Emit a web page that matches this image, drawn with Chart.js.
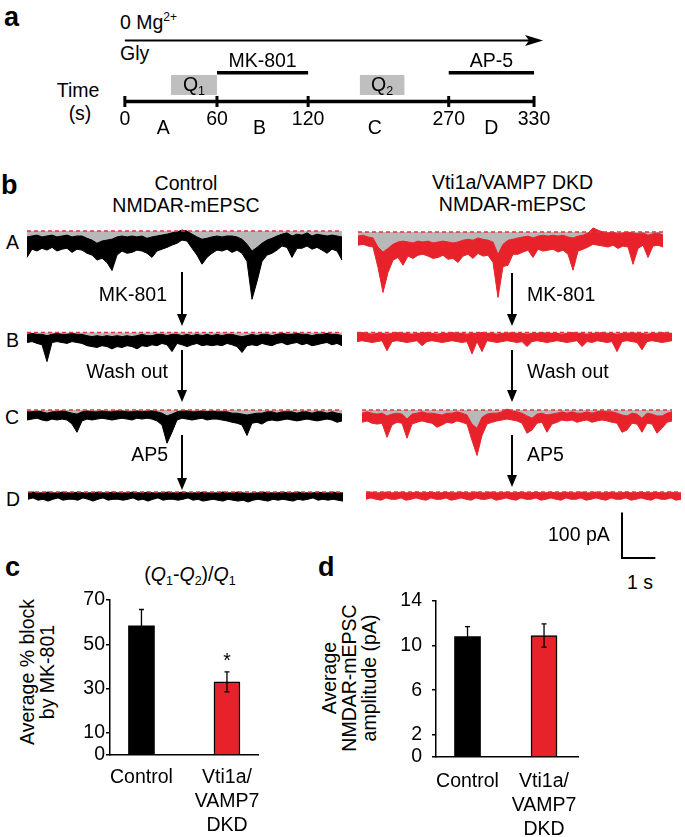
<!DOCTYPE html>
<html>
<head>
<meta charset="utf-8">
<script src="https://cdn.jsdelivr.net/npm/chart.js@4.4.0/dist/chart.umd.min.js"></script>
<style>
	html, body { margin: 0; padding: 0; background: #fff; }
	body { width: 685px; height: 837px; position: relative; overflow: hidden;
		font-family: "Liberation Sans", Arial, Helvetica, sans-serif; color: #000; }
	canvas { position: absolute; }
	.txt { position: absolute; white-space: nowrap; line-height: 1; }
	.vt { position: absolute; white-space: nowrap; font-size: 19.5px; line-height: 20px; text-align: center;
		transform: translate(-50%, -50%) rotate(-90deg); }
	.sup { font-size: 12px; position: relative; top: -8px; }
	.sub { font-size: 12.5px; position: relative; top: 4px; }
	.shape { position: absolute; }
</style>
</head>
<body>
<script>
/*Panel a: protocol (s)*/
var timeTicks = [0, 60, 120, 270, 330];
var segmentNames = ['A', 'B', 'C', 'D'];
var segmentMid = [25, 88, 191, 300];
var drugNames = ['MK-801', 'AP-5'];
var drugStart = [60, 270];
var drugEnd = [120, 330];
var chargeNames = ['1', '2'];
var chargeStart = [30, 175];
var chargeEnd = [60, 223];

/*Panel b: current traces (pA), one reading every 0.15 s, upper and lower edge of the noise band*/
var ctrlATop = [-13,-11,-9,-13,-11,-9,-13,-11,-9,-13, -11,-11,-16,-20,-27,-22,-20,-18,-13,-11,
	-13,-11,-13,-11,-16,-13,-11,-9,-7,-4, -2,2,0,-7,-13,-18,-16,-13,-11,-13,
	-11,-11,-13,-18,-29,-44,-36,-27,-20,-16, -11,-7,-4,-11,-7,-9,-4,-11,-7,-9, -11,-9,-11,-13];
var ctrlABot = [-58,-40,-44,-38,-42,-36,-44,-40,-38,-47, -40,-42,-49,-53,-64,-60,-69,-87,-53,-44,
	-49,-47,-42,-44,-49,-58,-44,-40,-36,-31, -27,-20,-22,-38,-53,-73,-58,-49,-42,-44,
	-40,-47,-42,-49,-67,-150,-111,-67,-53,-49, -42,-33,-36,-58,-38,-38,-33,-40,-36,-42, -49,-40,-44,-64];
var ctrlBTop = [-4,-2,-4,-4,-7,-4,-2,-4,-4,-2, -4,-4,-7,-9,-7,-9,-7,-9,-7,-9,
	-7,-9,-7,-4,-7,-7,-4,-4,-7,-4, -4,-7,-4,-7,-4,-7,-4,-7,-4,-7,
	-4,-4,-7,-9,-7,-4,-7,-4,-4,-7, -4,-2,-4,-4,-2,-4,-4,-7,-4,-4, -2,-4,-4,-7];
var ctrlBBot = [-22,-20,-24,-27,-64,-22,-20,-22,-24,-20, -22,-24,-29,-31,-33,-29,-31,-36,-31,-33,
	-29,-31,-36,-29,-31,-27,-29,-24,-27,-42, -24,-27,-31,-27,-24,-29,-27,-29,-27,-29,
	-24,-27,-31,-44,-29,-27,-29,-24,-27,-29, -24,-22,-27,-24,-22,-27,-24,-29,-27,-24, -22,-27,-24,-29];
var ctrlCTop = [-4,-4,-2,-4,-7,-4,-4,-2,-4,-7, -9,-4,-2,-4,-4,-2,-4,-4,-2,-2,
	-4,-4,-2,-4,-2,-2,-4,-7,-13,-9, -4,-2,-2,-4,-4,-2,-4,-2,-4,-4,
	-4,-7,-7,-9,-11,-9,-7,-7,-4,-4, -7,-4,-4,-4,-7,-4,-4,-7,-4,-4, -7,-4,-7,-9];
var ctrlCBot = [-22,-20,-18,-22,-24,-20,-22,-20,-22,-31, -49,-24,-20,-22,-20,-18,-20,-22,-20,-18,
	-20,-22,-18,-20,-18,-20,-24,-33,-73,-49, -22,-18,-20,-22,-20,-18,-22,-20,-20,-22,
	-24,-27,-29,-33,-56,-29,-27,-31,-24,-22, -24,-22,-20,-22,-24,-22,-20,-22,-24,-22, -20,-22,-27,-24];
var ctrlDTop = [-2,0,-2,-2,0,-2,-2,0,-2,-2, 0,-2,-2,-2,0,-2,-2,0,-2,-2,
	-2,0,-2,-2,0,-2,-2,-2,0,-2, -2,0,-2,-2,-2,0,-2,-2,-2,0,
	-2,-2,0,-2,-4,-2,-2,0,-2,-2, -2,0,-2,-2,0,-2,-2,-2,0,-2, -2,0,-2,-2];
var ctrlDBot = [-16,-13,-18,-16,-20,-16,-13,-18,-16,-16, -18,-13,-16,-20,-16,-13,-18,-16,-16,-18,
	-16,-13,-18,-16,-20,-16,-13,-18,-16,-16, -18,-16,-13,-18,-16,-20,-18,-16,-18,-20,
	-16,-18,-20,-18,-22,-18,-16,-18,-20,-16, -18,-16,-18,-20,-16,-18,-16,-13,-18,-16, -18,-16,-18,-20];
var dkdATop = [-9,-7,-11,-13,-33,-44,-36,-27,-22,-20, -22,-24,-20,-22,-20,-24,-22,-20,-22,-24,
	-22,-18,-16,-18,-13,-16,-18,-22,-49,-27, -18,-16,-13,-11,-9,-13,-9,-7,-9,-7,
	-9,-7,-11,-13,-9,-7,-2,9,4,0, -2,0,-4,-2,0,-2,-4,-2,-7,-4, -2,-7];
var dkdABot = [-29,-27,-31,-33,-78,-133,-89,-62,-56,-73, -53,-58,-51,-49,-53,-58,-56,-51,-60,-58,
	-67,-53,-49,-58,-47,-53,-51,-67,-144,-76, -73,-49,-49,-44,-40,-56,-38,-42,-40,-38,
	-44,-40,-49,-84,-42,-38,-33,-27,-29,-31, -33,-29,-36,-31,-33,-71,-36,-29,-56,-31, -29,-33];
var dkdBTop = [-2,0,-2,-4,-2,-2,-4,-2,0,-2, -2,-4,-2,-2,0,-2,-4,-2,-2,0,
	-2,-2,-4,-2,-2,0,-2,-2,-4,-2, -2,0,-2,-2,-4,-2,-2,0,-2,-2,
	-2,-4,-2,0,-2,-2,-4,-2,-2,0, -2,-2,-4,-2,-2,0,-2,-2,-4,-2, -2,0,-2,-2];
var dkdBBot = [-20,-18,-20,-22,-20,-18,-40,-20,-18,-20, -22,-20,-18,-29,-20,-18,-20,-22,-20,-18,
	-20,-22,-20,-47,-20,-42,-18,-20,-22,-20, -18,-20,-22,-20,-31,-20,-18,-20,-22,-20,
	-18,-20,-22,-20,-18,-31,-20,-22,-18,-20, -22,-20,-42,-20,-18,-20,-22,-38,-20,-18, -20,-22,-20,-18];
var dkdCTop = [-7,-4,-7,-9,-7,-13,-9,-7,-9,-20, -9,-7,-4,-7,-7,-9,-11,-7,-7,-4,
	-7,-11,-31,-40,-16,-9,-7,-7,-4,2, -2,-4,-7,-13,-18,-9,-7,-11,-9,-7,
	-4,-7,-4,-7,-7,-4,-7,-4,-2,-4, -4,-7,-11,-13,-7,-9,-18,-7,-9,-13, -13,-7,-4];
var dkdCBot = [-27,-24,-29,-31,-29,-60,-33,-27,-29,-62, -31,-27,-24,-27,-29,-38,-33,-27,-29,-24,
	-27,-31,-67,-100,-56,-31,-27,-24,-22,-20, -22,-24,-29,-51,-44,-29,-27,-49,-31,-27,
	-22,-24,-22,-27,-24,-22,-27,-24,-22,-24, -27,-29,-49,-44,-29,-31,-49,-29,-31,-51, -40,-27,-24];
var dkdDTop = [-2,0,-2,-2,0,-2,-2,0,-2,-2, 0,-2,-2,0,-2,-2,0,-2,-2,0,
	-2,-2,0,-2,-2,0,-2,-2,0,-2, -2,0,-2,-2,0,-2,-2,0,-2,-2,
	0,-2,-2,0,-2,-2,0,-2,-2,0, -2,-2,0,-2,-2,0,-2,-2,0,-2, -2,0,-2,-2];
var dkdDBot = [-16,-13,-16,-18,-13,-16,-16,-13,-18,-16, -13,-16,-18,-13,-16,-16,-13,-18,-16,-13,
	-16,-18,-13,-16,-16,-13,-18,-16,-13,-16, -18,-13,-16,-16,-13,-18,-16,-13,-16,-18,
	-13,-16,-16,-13,-18,-16,-13,-16,-18,-13, -16,-16,-13,-18,-16,-13,-16,-18,-13,-16, -16,-13,-18,-16];
var scaleBarPA = 100;
var scaleBarSec = 1;

/*Panels c, d*/
var groupNames = ['Control', ['Vti1a/', 'VAMP7', 'DKD']];
var blockMean = [58.3, 33.0];
var blockSem = [7.4, 4.5];
var blockTicks = [0, 10, 30, 50, 70];
var ampMean = [10.8, 10.9];
var ampSem = [0.9, 1.05];
var ampTicks = [0, 2, 6, 10, 14];

/*Estilos y layout*/
var FONT_FAMILY = '"Liberation Sans", Arial, Helvetica, sans-serif';
var FONT_SIZE = 19.5;
var BLACK = '#000000', RED = '#e8222a', DASH_RED = '#e8323a', GRAY = '#b8b8b8', BOX_GRAY = '#bfbfbf';
var DT = 0.15, PX_PER_SEC = 100 / 3, PX_PER_PA = 0.455, PAD_SEC = 0.1;
var axisStopsPx = [120, 215, 309, 454, 542];
var ROW = {arrow: 36, drugText: 66, drug: 72.5, boxTop: 75, boxBottom: 97.5, boxText: 93.5,
	axis: 105, tickText: 131, segText: 142};

Chart.defaults.font.family = FONT_FAMILY;
Chart.defaults.color = BLACK;

function baseOptions(){
	return {
		responsive: false, animation: false, devicePixelRatio: 1, events: [],
		layout: {padding: 0},
		elements: {point: {radius: 0}, line: {tension: 0}},
		plugins: {legend: {display: false}, tooltip: {enabled: false}}
	};
}

function addCanvas(left, top, w, h){
	var cv = document.createElement('canvas');
	cv.width = w; cv.height = h;
	cv.style.left = left + 'px'; cv.style.top = top + 'px';
	cv.style.width = w + 'px'; cv.style.height = h + 'px';
	document.body.appendChild(cv);
	return cv;
}

function addText(html, x, base, align, size, weight){
	var el = document.createElement('div');
	size = size || FONT_SIZE;
	el.className = 'txt';
	el.innerHTML = html;
	el.style.fontSize = size + 'px';
	if(weight){ el.style.fontWeight = weight; }
	el.style.left = x + 'px';
	el.style.top = (base - size * 0.8465) + 'px';
	if(align === 'center'){ el.style.transform = 'translateX(-50%)'; }
	if(align === 'right'){ el.style.transform = 'translateX(-100%)'; }
	document.body.appendChild(el);
}

function addVertTitle(lines, cx, cy){
	var el = document.createElement('div');
	el.className = 'vt';
	el.innerHTML = lines.join('<br>');
	el.style.left = cx + 'px';
	el.style.top = cy + 'px';
	document.body.appendChild(el);
}

function addArrow(x, y1, y2){
	var shaft = document.createElement('div'), head = document.createElement('div');
	shaft.className = 'shape'; head.className = 'shape';
	shaft.style.cssText += 'left:' + (x - 1) + 'px;top:' + y1 + 'px;width:2px;height:' + (y2 - y1 - 10) + 'px;background:#000;';
	head.style.cssText += 'left:' + (x - 5) + 'px;top:' + (y2 - 12) + 'px;width:0;height:0;' +
		'border-left:5px solid transparent;border-right:5px solid transparent;border-top:12px solid #000;';
	document.body.appendChild(shaft);
	document.body.appendChild(head);
}

/*Tiempo del protocolo -> posicion esquematica*/
function toPos(t){
	var k;
	for(k = 0; k < timeTicks.length - 2; k++){
		if(t <= timeTicks[k + 1]){ break; }
	}
	return axisStopsPx[k] + (t - timeTicks[k]) / (timeTicks[k + 1] - timeTicks[k]) * (axisStopsPx[k + 1] - axisStopsPx[k]);
}

/*Construye panel a*/
function buildTimeline(){
	var cv = addCanvas(0, 0, 560, 150), datasets = [], i, opts;
	var timelineText = {
		id: 'timelineText',
		afterDatasetsDraw: function(chart){
			var ctx = chart.ctx, xs = chart.scales.x, ys = chart.scales.y, j, x, tip, y, wq, ws;
			ctx.save();
			ctx.fillStyle = BLACK;
			ctx.font = FONT_SIZE + 'px ' + FONT_FAMILY;
			ctx.textAlign = 'center';
			ctx.textBaseline = 'alphabetic';
			for(j = 0; j < timeTicks.length; j++){
				ctx.fillText(String(timeTicks[j]), xs.getPixelForValue(toPos(timeTicks[j])), ys.getPixelForValue(ROW.tickText));
			}
			for(j = 0; j < segmentNames.length; j++){
				ctx.fillText(segmentNames[j], xs.getPixelForValue(toPos(segmentMid[j])), ys.getPixelForValue(ROW.segText));
			}
			for(j = 0; j < drugNames.length; j++){
				x = (xs.getPixelForValue(toPos(drugStart[j])) + xs.getPixelForValue(toPos(drugEnd[j]))) / 2;
				ctx.fillText(drugNames[j], x, ys.getPixelForValue(ROW.drugText));
			}
			ctx.textAlign = 'left';
			for(j = 0; j < chargeNames.length; j++){
				x = (xs.getPixelForValue(toPos(chargeStart[j])) + xs.getPixelForValue(toPos(chargeEnd[j]))) / 2;
				y = ys.getPixelForValue(ROW.boxText);
				ctx.font = FONT_SIZE + 'px ' + FONT_FAMILY;
				wq = ctx.measureText('Q').width;
				ctx.font = '12.5px ' + FONT_FAMILY;
				ws = ctx.measureText(chargeNames[j]).width;
				ctx.font = FONT_SIZE + 'px ' + FONT_FAMILY;
				ctx.fillText('Q', x - (wq + ws) / 2, y);
				ctx.font = '12.5px ' + FONT_FAMILY;
				ctx.fillText(chargeNames[j], x - (wq + ws) / 2 + wq, y + 4);
			}
			/*punta de flecha*/
			tip = xs.getPixelForValue(toPos(timeTicks[timeTicks.length - 1])) + 9;
			y = ys.getPixelForValue(ROW.arrow);
			ctx.beginPath();
			ctx.moveTo(tip, y);
			ctx.lineTo(tip - 18, y - 5.5);
			ctx.lineTo(tip - 14, y);
			ctx.lineTo(tip - 18, y + 5.5);
			ctx.closePath();
			ctx.fill();
			ctx.restore();
		}
	};
	for(i = 0; i < chargeNames.length; i++){
		datasets.push({data: [{x: toPos(chargeStart[i]), y: ROW.boxTop}, {x: toPos(chargeEnd[i]), y: ROW.boxTop}],
			borderWidth: 0, borderColor: 'rgba(0,0,0,0)', backgroundColor: BOX_GRAY, fill: {value: ROW.boxBottom}});
	}
	for(i = 0; i < drugNames.length; i++){
		datasets.push({data: [{x: toPos(drugStart[i]), y: ROW.drug}, {x: toPos(drugEnd[i]), y: ROW.drug}],
			borderWidth: 3.5, borderColor: BLACK, borderCapStyle: 'butt', fill: false});
	}
	datasets.push({data: [{x: toPos(timeTicks[0]), y: ROW.axis}, {x: toPos(timeTicks[timeTicks.length - 1]), y: ROW.axis}],
		borderWidth: 3.5, borderColor: BLACK, fill: false});
	datasets.push({data: timeTicks.map(function(t){ return {x: toPos(t), y: ROW.axis}; }), showLine: false,
		pointStyle: 'line', pointRotation: 90, pointRadius: 5.5, pointBorderWidth: 3, pointBorderColor: BLACK});
	datasets.push({data: [{x: toPos(timeTicks[0]), y: ROW.arrow}, {x: toPos(timeTicks[timeTicks.length - 1]) - 4, y: ROW.arrow}],
		borderWidth: 2, borderColor: BLACK, fill: false});
	opts = baseOptions();
	opts.scales = {
		x: {type: 'linear', display: false, min: 0, max: 560},
		y: {type: 'linear', display: false, min: 0, max: 150, reverse: true}
	};
	new Chart(cv, {type: 'line', data: {datasets: datasets}, options: opts, plugins: [timelineText]});
}

/*Construye un trazo de corriente*/
function buildTrace(color, top, bottom, x0, base, yMax, yMin){
	var n = top.length, tEnd = (n - 1) * DT, i, upper = [], lower = [], opts, cv,
		left = Math.round(x0 - PAD_SEC * PX_PER_SEC), topPx = Math.round(base - yMax * PX_PER_PA),
		xMin = -(x0 - left) / PX_PER_SEC, w = Math.ceil((tEnd + PAD_SEC - xMin) * PX_PER_SEC),
		yTop = (base - topPx) / PX_PER_PA, h = Math.ceil((yTop - yMin) * PX_PER_PA);
	for(i = 0; i < n; i++){
		upper.push({x: i * DT, y: top[i]});
		lower.push({x: i * DT, y: bottom[i]});
	}
	cv = addCanvas(left, topPx, w, h);
	opts = baseOptions();
	opts.scales = {
		x: {type: 'linear', display: false, min: xMin, max: xMin + w / PX_PER_SEC},
		y: {type: 'linear', display: false, min: yTop - h / PX_PER_PA, max: yTop}
	};
	new Chart(cv, {type: 'line', data: {datasets: [
		{data: [{x: 0, y: 0}, {x: tEnd, y: 0}], borderColor: DASH_RED, borderWidth: 1.5, borderDash: [4, 3], fill: false},
		{data: lower, borderColor: color, borderWidth: 1, backgroundColor: color, fill: '+1'},
		{data: upper, borderColor: color, borderWidth: 1, backgroundColor: GRAY, fill: 'origin'}
	]}, options: opts});
}

/*Barra de escala con las mismas escalas de los trazos*/
function buildScaleBar(x0, y0){
	var left = Math.round(x0 - 0.15 * PX_PER_SEC), top = Math.round(y0 - (scaleBarPA + 10) * PX_PER_PA),
		w = Math.ceil((scaleBarSec + 0.3) * PX_PER_SEC), h = Math.ceil((scaleBarPA + 20) * PX_PER_PA),
		xMin = -(x0 - left) / PX_PER_SEC, yMax = (y0 - top) / PX_PER_PA, opts, cv;
	cv = addCanvas(left, top, w, h);
	opts = baseOptions();
	opts.scales = {
		x: {type: 'linear', display: false, min: xMin, max: xMin + w / PX_PER_SEC},
		y: {type: 'linear', display: false, min: yMax - h / PX_PER_PA, max: yMax}
	};
	new Chart(cv, {type: 'line', data: {datasets: [{
		data: [{x: 0, y: scaleBarPA}, {x: 0, y: 0}, {x: scaleBarSec, y: 0}],
		borderColor: BLACK, borderWidth: 2, borderJoinStyle: 'miter', fill: false
	}]}, options: opts});
}

/*Construye grafico de barras con error*/
function buildBars(lay, means, errs, yTicks, star){
	var cv = addCanvas(lay.left, lay.top, lay.w, lay.h), opts;
	var errorBars = {
		id: 'errorBars',
		afterDatasetsDraw: function(chart){
			var ctx = chart.ctx, xs = chart.scales.x, ys = chart.scales.y, i, x, yHi, yLo;
			ctx.save();
			ctx.strokeStyle = BLACK;
			ctx.lineWidth = 1.3;
			for(i = 0; i < means.length; i++){
				x = xs.getPixelForValue(i + 1);
				yHi = ys.getPixelForValue(means[i] + errs[i]);
				yLo = ys.getPixelForValue(means[i] - errs[i]);
				ctx.beginPath();
				ctx.moveTo(x, yLo); ctx.lineTo(x, yHi);
				ctx.moveTo(x - 2.5, yHi); ctx.lineTo(x + 2.5, yHi);
				ctx.moveTo(x - 2.5, yLo); ctx.lineTo(x + 2.5, yLo);
				ctx.stroke();
			}
			if(star){
				ctx.fillStyle = BLACK;
				ctx.font = FONT_SIZE + 'px ' + FONT_FAMILY;
				ctx.textAlign = 'center';
				ctx.textBaseline = 'alphabetic';
				ctx.fillText('*', xs.getPixelForValue(star), ys.getPixelForValue(means[star - 1] + errs[star - 1]) - 5);
			}
			ctx.restore();
		}
	};
	opts = baseOptions();
	opts.layout = {padding: {top: lay.padTop, right: lay.padRight, left: 0, bottom: 0}};
	opts.scales = {
		x: {
			type: 'linear', offset: false, min: lay.xMin, max: lay.xMax,
			afterBuildTicks: function(s){ s.ticks = groupNames.map(function(g, i){ return {value: i + 1}; }); },
			border: {display: true, color: BLACK, width: 1.5},
			grid: {display: false},
			ticks: {color: BLACK, font: {size: FONT_SIZE, lineHeight: 1.25}, padding: lay.xPad, maxRotation: 0, autoSkip: false,
				callback: function(v){ return groupNames[v - 1]; }},
			afterFit: function(s){ s.height = lay.xAxisH; s.paddingLeft = 0; s.paddingRight = 0; }
		},
		y: {
			type: 'linear', min: 0, max: yTicks[yTicks.length - 1],
			afterBuildTicks: function(s){ s.ticks = yTicks.map(function(v){ return {value: v}; }); },
			border: {display: true, color: BLACK, width: 1.5},
			grid: {display: true, drawOnChartArea: false, drawTicks: true, tickLength: 4, color: BLACK, lineWidth: 1.5},
			ticks: {color: BLACK, font: {size: FONT_SIZE}, padding: lay.yPad},
			afterFit: function(s){ s.width = lay.yAxisW; s.paddingTop = 0; s.paddingBottom = 0; }
		}
	};
	new Chart(cv, {type: 'bar', data: {datasets: [{
		data: means.map(function(m, i){ return {x: i + 1, y: m}; }),
		backgroundColor: [BLACK, RED], borderColor: BLACK, borderWidth: [0, 1.5], barThickness: 26
	}]}, options: opts, plugins: [errorBars]});
}

/*Panel a*/
addText('a', 4, 27, 'left', 27, 'bold');
addText('0 Mg<span class="sup">2+</span>', 120, 30, 'left');
addText('Gly', 120, 61, 'left');
addText('Time', 78, 98, 'center');
addText('(s)', 80, 121, 'center');
buildTimeline();

/*Panel b*/
addText('b', 1, 195, 'left', 27, 'bold');
addText('Control', 186, 191, 'center');
addText('NMDAR-mEPSC', 186, 213, 'center');
addText('Vti1a/VAMP7 DKD', 512.5, 190, 'center');
addText('NMDAR-mEPSC', 512.5, 212, 'center');
addText('A', 6, 250, 'left');
addText('B', 6, 348, 'left');
addText('C', 5, 425, 'left');
addText('D', 6, 507, 'left');

buildTrace(BLACK, ctrlATop, ctrlABot, 27, 231, 20, -165);
buildTrace(BLACK, ctrlBTop, ctrlBBot, 27, 332.5, 12, -75);
buildTrace(BLACK, ctrlCTop, ctrlCBot, 27, 410, 12, -85);
buildTrace(BLACK, ctrlDTop, ctrlDBot, 28, 492, 10, -30);
buildTrace(RED, dkdATop, dkdABot, 358, 232, 20, -155);
buildTrace(RED, dkdBTop, dkdBBot, 357, 332.5, 12, -60);
buildTrace(RED, dkdCTop, dkdCBot, 362, 410, 12, -110);
buildTrace(RED, dkdDTop, dkdDBot, 366, 492, 10, -30);

addArrow(182, 272, 326);
addArrow(182, 350, 402);
addArrow(182, 435, 490);
addArrow(512, 273, 326);
addArrow(512, 350, 402);
addArrow(512, 435, 487);
addText('MK-801', 167, 302, 'right');
addText('Wash out', 168, 379, 'right');
addText('AP5', 168, 462, 'right');
addText('MK-801', 527, 302, 'left');
addText('Wash out', 527, 379, 'left');
addText('AP5', 527, 462, 'left');

buildScaleBar(622, 558);
addText('100 pA', 548, 541.5, 'left');
addText('1 s', 627, 590, 'left');

/*Panel c*/
addText('c', 5, 577, 'left', 27, 'bold');
addText('(<i>Q</i><span class="sub">1</span>-<i>Q</i><span class="sub">2</span>)/<i>Q</i><span class="sub">1</span>', 190, 582, 'center');
addVertTitle(['Average % block', 'by MK-801'], 37, 672);
buildBars({left: 55, top: 590, w: 215, h: 245, padTop: 10, padRight: 12, yAxisW: 55, xAxisH: 80,
	xMin: 0.632, xMax: 2.363, xPad: 2, yPad: 1}, blockMean, blockSem, blockTicks, 2);

/*Panel d*/
addText('d', 318, 577, 'left', 27, 'bold');
addVertTitle(['Average', 'NMDAR-mEPSC', 'amplitude (pA)'], 348.7, 678);
buildBars({left: 375, top: 590, w: 215, h: 245, padTop: 11, padRight: 12, yAxisW: 61, xAxisH: 78,
	xMin: 0.588, xMax: 2.444, xPad: 4, yPad: 10}, ampMean, ampSem, ampTicks, 0);
</script>
</body>
</html>
